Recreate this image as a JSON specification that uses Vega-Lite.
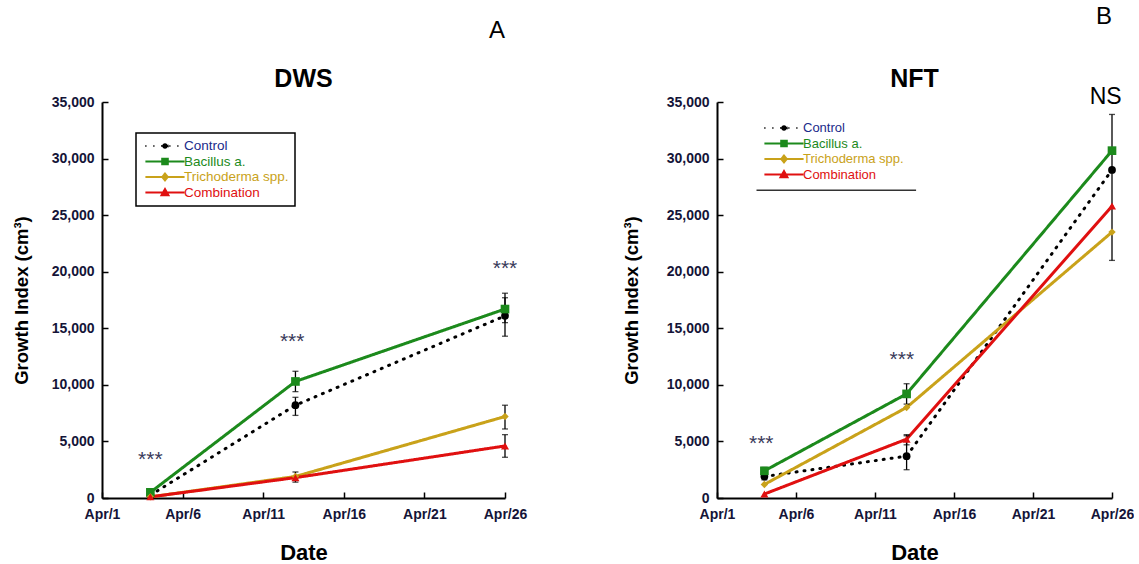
{
  "$schema": "https://vega.github.io/schema/vega-lite/v6.json",
  "padding": {"left": 12, "top": 5, "right": 0, "bottom": 0},
  "background": "white",
  "datasets": {
    "growth": [
      {"panel": "DWS", "series": "Control", "day": 4, "value": 250, "lo": null, "hi": null},
      {"panel": "DWS", "series": "Control", "day": 13, "value": 8200, "lo": 7300, "hi": 8900},
      {"panel": "DWS", "series": "Control", "day": 26, "value": 16100, "lo": 14300, "hi": 17700},
      {"panel": "DWS", "series": "Bacillus a.", "day": 4, "value": 500, "lo": null, "hi": null},
      {"panel": "DWS", "series": "Bacillus a.", "day": 13, "value": 10300, "lo": 9400, "hi": 11200},
      {"panel": "DWS", "series": "Bacillus a.", "day": 26, "value": 16700, "lo": 15500, "hi": 18100},
      {"panel": "DWS", "series": "Trichoderma spp.", "day": 4, "value": 100, "lo": null, "hi": null},
      {"panel": "DWS", "series": "Trichoderma spp.", "day": 13, "value": 1900, "lo": null, "hi": null},
      {"panel": "DWS", "series": "Trichoderma spp.", "day": 26, "value": 7200, "lo": 6100, "hi": 8200},
      {"panel": "DWS", "series": "Combination", "day": 4, "value": 100, "lo": null, "hi": null},
      {"panel": "DWS", "series": "Combination", "day": 13, "value": 1800, "lo": 1400, "hi": 2300},
      {"panel": "DWS", "series": "Combination", "day": 26, "value": 4600, "lo": 3600, "hi": 5600},
      {"panel": "NFT", "series": "Control", "day": 4, "value": 1900, "lo": 1600, "hi": 2200},
      {"panel": "NFT", "series": "Control", "day": 13, "value": 3700, "lo": 2500, "hi": 5500},
      {"panel": "NFT", "series": "Control", "day": 26, "value": 29000, "lo": 21000, "hi": 33900},
      {"panel": "NFT", "series": "Bacillus a.", "day": 4, "value": 2400, "lo": 2100, "hi": 2700},
      {"panel": "NFT", "series": "Bacillus a.", "day": 13, "value": 9200, "lo": 8300, "hi": 10100},
      {"panel": "NFT", "series": "Bacillus a.", "day": 26, "value": 30700, "lo": null, "hi": null},
      {"panel": "NFT", "series": "Trichoderma spp.", "day": 4, "value": 1200, "lo": null, "hi": null},
      {"panel": "NFT", "series": "Trichoderma spp.", "day": 13, "value": 8000, "lo": null, "hi": null},
      {"panel": "NFT", "series": "Trichoderma spp.", "day": 26, "value": 23500, "lo": null, "hi": null},
      {"panel": "NFT", "series": "Combination", "day": 4, "value": 350, "lo": null, "hi": null},
      {"panel": "NFT", "series": "Combination", "day": 13, "value": 5200, "lo": 4700, "hi": 5600},
      {"panel": "NFT", "series": "Combination", "day": 26, "value": 25800, "lo": null, "hi": null}
    ],
    "notes": [
      {"panel": "DWS", "day": 4, "value": 3400, "label": "***", "kind": "sig"},
      {"panel": "DWS", "day": 12.8, "value": 13800, "label": "***", "kind": "sig"},
      {"panel": "DWS", "day": 26, "value": 20200, "label": "***", "kind": "sig"},
      {"panel": "DWS", "day": 13.5, "value": 37000, "label": "DWS", "kind": "title"},
      {"panel": "NFT", "day": 3.8, "value": 4800, "label": "***", "kind": "sig"},
      {"panel": "NFT", "day": 12.7, "value": 12200, "label": "***", "kind": "sig"},
      {"panel": "NFT", "day": 25.6, "value": 35400, "label": "NS", "kind": "letter"},
      {"panel": "NFT", "day": 13.5, "value": 37000, "label": "NFT", "kind": "title"}
    ]
  },
  "config": {
    "view": {"stroke": null},
    "font": "Liberation Sans",
    "axis": {
      "grid": false,
      "domainColor": "black",
      "domainWidth": 2,
      "tickColor": "black",
      "tickWidth": 1.5,
      "tickSize": -6,
      "labelFont": "Liberation Sans",
      "labelFontWeight": "bold",
      "labelFontSize": 14,
      "labelColor": "#141438",
      "titleFont": "Liberation Sans",
      "titleFontWeight": "bold",
      "titleColor": "black"
    },
    "title": {"font": "Liberation Sans", "fontSize": 24, "fontWeight": "normal", "color": "black", "frame": "group", "anchor": "end"}
  },
  "spacing": 95,
  "resolve": {
    "scale": {"color": "independent", "strokeDash": "independent"},
    "legend": {"color": "independent", "strokeDash": "independent"}
  },
  "hconcat": [
    {
      "title": {"text": "A", "offset": 24},
      "width": 403,
      "height": 396,
      "layer": [
        {
          "data": {"name": "growth"},
          "transform": [{"filter": "datum.panel == 'DWS'"}],
          "mark": {"type": "line", "strokeWidth": 3, "strokeCap": "round"},
          "encoding": {
            "x": {"field": "day", "type": "quantitative", "scale": {"domain": [1, 26], "nice": false, "zero": false},
              "axis": {"values": [1, 6, 11, 16, 21, 26], "labelExpr": "'Apr/' + datum.value", "title": "Date", "titleFontSize": 22, "titlePadding": 21, "labelPadding": 15, "labelFlush": false}},
            "y": {"field": "value", "type": "quantitative", "scale": {"domain": [0, 35000], "nice": false},
              "axis": {"values": [0, 5000, 10000, 15000, 20000, 25000, 30000, 35000], "format": ",d", "title": "Growth Index (cm³)", "titleFontSize": 18.5, "titlePadding": 20, "labelPadding": 14}},
            "color": {"field": "series", "type": "nominal",
              "scale": {"domain": ["Control", "Bacillus a.", "Trichoderma spp.", "Combination"], "range": ["#000000", "#1c8a1c", "#c9a21a", "#e01010"]},
              "legend": {
                "title": null, "orient": "none", "legendX": 34, "legendY": 31,
                "strokeColor": "black", "fillColor": "white", "padding": 6,
                "symbolSize": 196, "symbolStrokeWidth": 2, "symbolOffset": 15, "labelOffset": 11, "clipHeight": 14,
                "labelFont": "Liberation Sans", "labelFontSize": 13.5, "rowPadding": 1.5, "labelLimit": 200,
                "encode": {
                  "legend": {"update": {"strokeWidth": {"value": 1.5}}},
                  "symbols": {"update": {
                    "shape": {"signal": "datum.value == 'Control' ? 'M-2.8,0H2.8M0.4,0A0.4,0.4 0 1,1 -0.4,0A0.4,0.4 0 1,1 0.4,0Z' : datum.value == 'Bacillus a.' ? 'M-2.8,0H2.8M-0.4,-0.4H0.4V0.4H-0.4Z' : datum.value == 'Trichoderma spp.' ? 'M-2.8,0H2.8M0,-0.5L0.4,0L0,0.5L-0.4,0Z' : 'M-2.8,0H2.8M0,-0.5L0.5,0.4H-0.5Z'"},
                    "fill": {"signal": "datum.value == 'Control' ? '#000000' : datum.value == 'Bacillus a.' ? '#1c8a1c' : datum.value == 'Trichoderma spp.' ? '#c9a21a' : '#e01010'"},
                    "stroke": {"signal": "datum.value == 'Control' ? '#000000' : datum.value == 'Bacillus a.' ? '#1c8a1c' : datum.value == 'Trichoderma spp.' ? '#c9a21a' : '#e01010'"},
                    "opacity": {"value": 1}
                  }},
                  "labels": {"update": {
                    "fill": {"signal": "datum.value == 'Control' ? '#1a2a8a' : datum.value == 'Bacillus a.' ? '#1c8a1c' : datum.value == 'Trichoderma spp.' ? '#c9a21a' : '#e01010'"}
                  }}
                }
              }},
            "strokeDash": {"field": "series", "type": "nominal",
              "scale": {"domain": ["Control", "Bacillus a.", "Trichoderma spp.", "Combination"], "range": [[1, 7], [1, 0], [1, 0], [1, 0]]},
              "legend": null}
          }
        },
        {
          "data": {"name": "growth"},
          "transform": [{"filter": "datum.panel == 'DWS' && isValid(datum.lo)"}],
          "mark": {"type": "rule", "color": "black", "strokeWidth": 1.3},
          "encoding": {
            "x": {"field": "day", "type": "quantitative"},
            "y": {"field": "lo", "type": "quantitative"},
            "y2": {"field": "hi"}
          }
        },
        {
          "data": {"name": "growth"},
          "transform": [{"filter": "datum.panel == 'DWS' && isValid(datum.lo)"}],
          "mark": {"type": "tick", "orient": "horizontal", "color": "black", "size": 6, "thickness": 1.3},
          "encoding": {
            "x": {"field": "day", "type": "quantitative"},
            "y": {"field": "lo", "type": "quantitative"}
          }
        },
        {
          "data": {"name": "growth"},
          "transform": [{"filter": "datum.panel == 'DWS' && isValid(datum.lo)"}],
          "mark": {"type": "tick", "orient": "horizontal", "color": "black", "size": 6, "thickness": 1.3},
          "encoding": {
            "x": {"field": "day", "type": "quantitative"},
            "y": {"field": "hi", "type": "quantitative"}
          }
        },
        {
          "data": {"name": "growth"},
          "transform": [{"filter": "datum.panel == 'DWS' && datum.series == 'Control'"}],
          "mark": {"type": "point", "filled": true, "opacity": 1, "size": 60, "shape": "circle", "color": "#000000"},
          "encoding": {"x": {"field": "day", "type": "quantitative"}, "y": {"field": "value", "type": "quantitative"}}
        },
        {
          "data": {"name": "growth"},
          "transform": [{"filter": "datum.panel == 'DWS' && datum.series == 'Bacillus a.'"}],
          "mark": {"type": "point", "filled": true, "opacity": 1, "size": 75, "shape": "square", "color": "#1c8a1c"},
          "encoding": {"x": {"field": "day", "type": "quantitative"}, "y": {"field": "value", "type": "quantitative"}}
        },
        {
          "data": {"name": "growth"},
          "transform": [{"filter": "datum.panel == 'DWS' && datum.series == 'Trichoderma spp.'"}],
          "mark": {"type": "point", "filled": true, "opacity": 1, "size": 55, "shape": "diamond", "color": "#c9a21a"},
          "encoding": {"x": {"field": "day", "type": "quantitative"}, "y": {"field": "value", "type": "quantitative"}}
        },
        {
          "data": {"name": "growth"},
          "transform": [{"filter": "datum.panel == 'DWS' && datum.series == 'Combination'"}],
          "mark": {"type": "point", "filled": true, "opacity": 1, "size": 65, "shape": "triangle-up", "color": "#e01010"},
          "encoding": {"x": {"field": "day", "type": "quantitative"}, "y": {"field": "value", "type": "quantitative"}}
        },
        {
          "data": {"name": "notes"},
          "transform": [{"filter": "datum.panel == 'DWS' && datum.kind == 'sig'"}],
          "mark": {"type": "text", "font": "Liberation Sans", "fontSize": 21, "baseline": "middle", "align": "center", "clip": false, "color": "#3a3a5a"},
          "encoding": {
            "x": {"field": "day", "type": "quantitative"},
            "y": {"field": "value", "type": "quantitative"},
            "text": {"field": "label"}
          }
        },
        {
          "data": {"name": "notes"},
          "transform": [{"filter": "datum.panel == 'DWS' && datum.kind == 'title'"}],
          "mark": {"type": "text", "font": "Liberation Sans", "fontSize": 25, "fontWeight": "bold", "baseline": "middle", "align": "center", "clip": false, "color": "#000000"},
          "encoding": {
            "x": {"field": "day", "type": "quantitative"},
            "y": {"field": "value", "type": "quantitative"},
            "text": {"field": "label"}
          }
        }
      ]
    },
    {
      "title": {"text": "B", "offset": 38},
      "width": 395,
      "height": 396,
      "layer": [
        {
          "data": {"name": "growth"},
          "transform": [{"filter": "datum.panel == 'NFT'"}],
          "mark": {"type": "line", "strokeWidth": 3, "strokeCap": "round"},
          "encoding": {
            "x": {"field": "day", "type": "quantitative", "scale": {"domain": [1, 26], "nice": false, "zero": false},
              "axis": {"values": [1, 6, 11, 16, 21, 26], "labelExpr": "'Apr/' + datum.value", "title": "Date", "titleFontSize": 22, "titlePadding": 21, "labelPadding": 15, "labelFlush": false}},
            "y": {"field": "value", "type": "quantitative", "scale": {"domain": [0, 35000], "nice": false},
              "axis": {"values": [0, 5000, 10000, 15000, 20000, 25000, 30000, 35000], "format": ",d", "title": "Growth Index (cm³)", "titleFontSize": 18.5, "titlePadding": 25, "labelPadding": 14}},
            "color": {"field": "series", "type": "nominal",
              "scale": {"domain": ["Control", "Bacillus a.", "Trichoderma spp.", "Combination"], "range": ["#000000", "#1c8a1c", "#c9a21a", "#e01010"]},
              "legend": {
                "title": null, "orient": "none", "legendX": 44, "legendY": 19,
                "padding": 0,
                "symbolSize": 196, "symbolStrokeWidth": 2, "symbolOffset": 15, "labelOffset": 11, "clipHeight": 14,
                "labelFont": "Liberation Sans", "labelFontSize": 13, "rowPadding": 1.5, "labelLimit": 200,
                "encode": {
                  "symbols": {"update": {
                    "shape": {"signal": "datum.value == 'Control' ? 'M-2.8,0H2.8M0.4,0A0.4,0.4 0 1,1 -0.4,0A0.4,0.4 0 1,1 0.4,0Z' : datum.value == 'Bacillus a.' ? 'M-2.8,0H2.8M-0.4,-0.4H0.4V0.4H-0.4Z' : datum.value == 'Trichoderma spp.' ? 'M-2.8,0H2.8M0,-0.5L0.4,0L0,0.5L-0.4,0Z' : 'M-2.8,0H2.8M0,-0.5L0.5,0.4H-0.5Z'"},
                    "fill": {"signal": "datum.value == 'Control' ? '#000000' : datum.value == 'Bacillus a.' ? '#1c8a1c' : datum.value == 'Trichoderma spp.' ? '#c9a21a' : '#e01010'"},
                    "stroke": {"signal": "datum.value == 'Control' ? '#000000' : datum.value == 'Bacillus a.' ? '#1c8a1c' : datum.value == 'Trichoderma spp.' ? '#c9a21a' : '#e01010'"},
                    "opacity": {"value": 1}
                  }},
                  "labels": {"update": {
                    "fill": {"signal": "datum.value == 'Control' ? '#1a2a8a' : datum.value == 'Bacillus a.' ? '#1c8a1c' : datum.value == 'Trichoderma spp.' ? '#c9a21a' : '#e01010'"}
                  }}
                }
              }},
            "strokeDash": {"field": "series", "type": "nominal",
              "scale": {"domain": ["Control", "Bacillus a.", "Trichoderma spp.", "Combination"], "range": [[1, 7], [1, 0], [1, 0], [1, 0]]},
              "legend": null}
          }
        },
        {
          "data": {"name": "growth"},
          "transform": [{"filter": "datum.panel == 'NFT' && isValid(datum.lo)"}],
          "mark": {"type": "rule", "color": "black", "strokeWidth": 1.3},
          "encoding": {
            "x": {"field": "day", "type": "quantitative"},
            "y": {"field": "lo", "type": "quantitative"},
            "y2": {"field": "hi"}
          }
        },
        {
          "data": {"name": "growth"},
          "transform": [{"filter": "datum.panel == 'NFT' && isValid(datum.lo)"}],
          "mark": {"type": "tick", "orient": "horizontal", "color": "black", "size": 6, "thickness": 1.3},
          "encoding": {
            "x": {"field": "day", "type": "quantitative"},
            "y": {"field": "lo", "type": "quantitative"}
          }
        },
        {
          "data": {"name": "growth"},
          "transform": [{"filter": "datum.panel == 'NFT' && isValid(datum.lo)"}],
          "mark": {"type": "tick", "orient": "horizontal", "color": "black", "size": 6, "thickness": 1.3},
          "encoding": {
            "x": {"field": "day", "type": "quantitative"},
            "y": {"field": "hi", "type": "quantitative"}
          }
        },
        {
          "data": {"name": "growth"},
          "transform": [{"filter": "datum.panel == 'NFT' && datum.series == 'Control'"}],
          "mark": {"type": "point", "filled": true, "opacity": 1, "size": 60, "shape": "circle", "color": "#000000"},
          "encoding": {"x": {"field": "day", "type": "quantitative"}, "y": {"field": "value", "type": "quantitative"}}
        },
        {
          "data": {"name": "growth"},
          "transform": [{"filter": "datum.panel == 'NFT' && datum.series == 'Bacillus a.'"}],
          "mark": {"type": "point", "filled": true, "opacity": 1, "size": 75, "shape": "square", "color": "#1c8a1c"},
          "encoding": {"x": {"field": "day", "type": "quantitative"}, "y": {"field": "value", "type": "quantitative"}}
        },
        {
          "data": {"name": "growth"},
          "transform": [{"filter": "datum.panel == 'NFT' && datum.series == 'Trichoderma spp.'"}],
          "mark": {"type": "point", "filled": true, "opacity": 1, "size": 55, "shape": "diamond", "color": "#c9a21a"},
          "encoding": {"x": {"field": "day", "type": "quantitative"}, "y": {"field": "value", "type": "quantitative"}}
        },
        {
          "data": {"name": "growth"},
          "transform": [{"filter": "datum.panel == 'NFT' && datum.series == 'Combination'"}],
          "mark": {"type": "point", "filled": true, "opacity": 1, "size": 65, "shape": "triangle-up", "color": "#e01010"},
          "encoding": {"x": {"field": "day", "type": "quantitative"}, "y": {"field": "value", "type": "quantitative"}}
        },
        {
          "data": {"values": [{"x1": 3.5, "x2": 13.6, "y": 27200}]},
          "mark": {"type": "rule", "color": "#333333", "strokeWidth": 1.5},
          "encoding": {
            "x": {"field": "x1", "type": "quantitative"},
            "x2": {"field": "x2"},
            "y": {"field": "y", "type": "quantitative"}
          }
        },
        {
          "data": {"name": "notes"},
          "transform": [{"filter": "datum.panel == 'NFT' && datum.kind == 'sig'"}],
          "mark": {"type": "text", "font": "Liberation Sans", "fontSize": 21, "baseline": "middle", "align": "center", "clip": false, "color": "#3a3a5a"},
          "encoding": {
            "x": {"field": "day", "type": "quantitative"},
            "y": {"field": "value", "type": "quantitative"},
            "text": {"field": "label"}
          }
        },
        {
          "data": {"name": "notes"},
          "transform": [{"filter": "datum.panel == 'NFT' && datum.kind == 'letter'"}],
          "mark": {"type": "text", "font": "Liberation Sans", "fontSize": 23, "baseline": "middle", "align": "center", "clip": false, "color": "#000000"},
          "encoding": {
            "x": {"field": "day", "type": "quantitative"},
            "y": {"field": "value", "type": "quantitative"},
            "text": {"field": "label"}
          }
        },
        {
          "data": {"name": "notes"},
          "transform": [{"filter": "datum.panel == 'NFT' && datum.kind == 'title'"}],
          "mark": {"type": "text", "font": "Liberation Sans", "fontSize": 25, "fontWeight": "bold", "baseline": "middle", "align": "center", "clip": false, "color": "#000000"},
          "encoding": {
            "x": {"field": "day", "type": "quantitative"},
            "y": {"field": "value", "type": "quantitative"},
            "text": {"field": "label"}
          }
        }
      ]
    }
  ]
}
